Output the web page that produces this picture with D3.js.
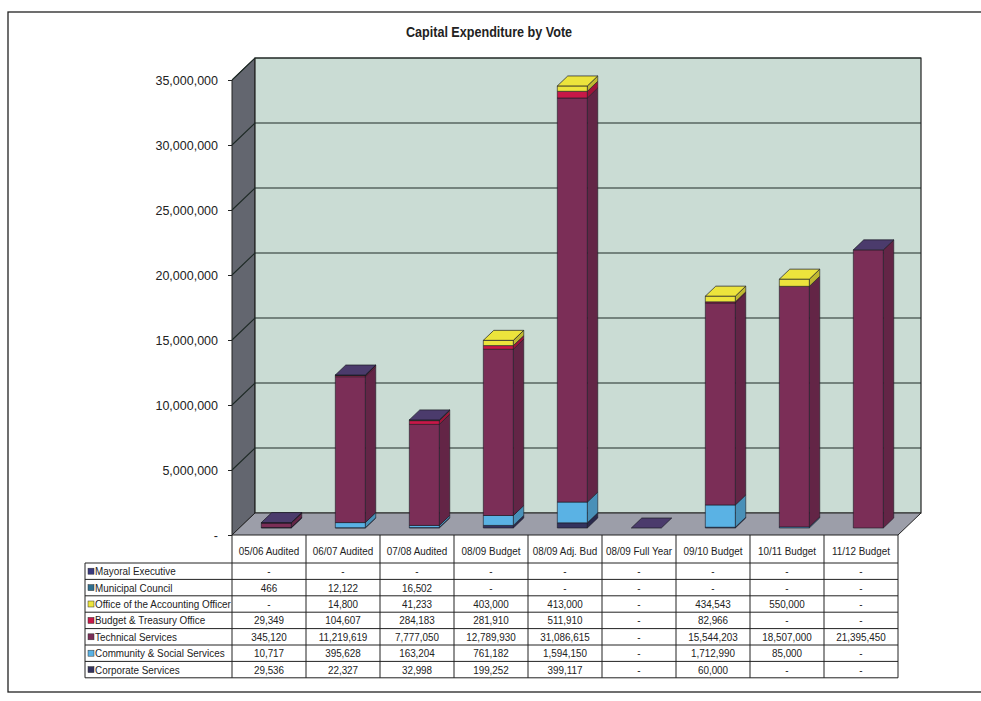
<!DOCTYPE html>
<html><head><meta charset="utf-8">
<script src="https://cdn.jsdelivr.net/npm/d3@7/dist/d3.min.js"></script>
<style>
html,body{margin:0;padding:0;background:#fff;}
svg{display:block;}
</style></head>
<body>
<svg id="chart" width="981" height="701"></svg>
<script>
const categories = ["05/06 Audited","06/07 Audited","07/08 Audited","08/09 Budget","08/09 Adj. Bud","08/09 Full Year","09/10 Budget","10/11 Budget","11/12 Budget"];
const seriesNames = ["Mayoral Executive","Municipal Council","Office of the Accounting Officer","Budget & Treasury Office","Technical Services","Community & Social Services","Corporate Services"];
const mayoralExecutive   = [0,0,0,0,0,0,0,0,0];
const municipalCouncil   = [466,12122,16502,0,0,0,0,0,0];
const accountingOfficer  = [0,14800,41233,403000,413000,0,434543,550000,0];
const budgetTreasury     = [29349,104607,284183,281910,511910,0,82966,0,0];
const technicalServices  = [345120,11219619,7777050,12789930,31086615,0,15544203,18507000,21395450];
const communityServices  = [10717,395628,163204,761182,1594150,0,1712990,85000,0];
const corporateServices  = [29536,22327,32998,199252,399117,0,60000,0,0];
const yTickValues = [0,5000000,10000000,15000000,20000000,25000000,30000000,35000000];
const title = "Capital Expenditure by Vote";

const seriesColors = ["#3a3a80","#2f6f8f","#ece43c","#c81848","#7b2e57","#5ab2e4","#34335e"];
const seriesValues = [mayoralExecutive,municipalCouncil,accountingOfficer,budgetTreasury,technicalServices,communityServices,corporateServices];

const svg = d3.select("#chart");
const FONT = "'Liberation Sans',Arial,sans-serif";

function label(parent, x, y, txt, opts) {
  opts = opts || {};
  return parent.append("text")
    .attr("transform", `translate(${x},${y}) scale(${opts.sx || 0.86},1)`)
    .attr("text-anchor", opts.anchor || "middle")
    .attr("font-family", FONT)
    .attr("font-size", opts.size || 11.5)
    .attr("font-weight", opts.weight || "normal")
    .attr("fill", "#222")
    .text(txt);
}

svg.append("rect").attr("x",8).attr("y",12).attr("width",1000).attr("height",680)
  .attr("fill","none").attr("stroke","#222").attr("stroke-width",1.3);

label(svg, 489, 37, title, {size: 14, weight: "bold", sx: 0.9});

const x0 = 232, x1 = 898;
const depth = 22, kx = 23/22;
const x = d3.scaleBand().domain(categories).range([x0,x1]).padding(0);
const y = d3.scaleLinear().domain([0,35000000]).range([535,80]);
const P = (xs, v, z) => [xs + z*kx, y(v) - z];
const poly = pts => pts.map(p=>p.join(",")).join(" ");

const g = svg.append("g");
g.append("polygon").attr("points", poly([P(x0,0,0),P(x0,35e6,0),P(x0,35e6,depth),P(x0,0,depth)]))
  .attr("fill","#63666f").attr("stroke","#222").attr("stroke-width",1);
g.append("polygon").attr("points", poly([P(x0,0,depth),P(x0,35e6,depth),P(x1,35e6,depth),P(x1,0,depth)]))
  .attr("fill","#cadcd4").attr("stroke","#222").attr("stroke-width",1.2);
g.append("polygon").attr("points", poly([P(x0,0,0),P(x1,0,0),P(x1,0,depth),P(x0,0,depth)]))
  .attr("fill","#9c9ea9").attr("stroke","#222").attr("stroke-width",1);

yTickValues.filter(v=>v>0).forEach(v=>{
  g.append("polyline").attr("points", poly([P(x0,v,0),P(x0,v,depth),P(x1,v,depth)]))
    .attr("fill","none").attr("stroke","#1e2a26").attr("stroke-width",1.1);
});

const yAxis = d3.axisLeft(y).tickValues(yTickValues).tickSize(4).tickPadding(10)
  .tickFormat(v => v===0 ? "-" : d3.format(",")(v));
const ag = svg.append("g").attr("transform",`translate(${x0},0)`).call(yAxis);
ag.select(".domain").remove();
ag.selectAll("text").attr("font-family",FONT).attr("font-size",12.5).attr("fill","#222");
ag.selectAll("line").attr("stroke","#222");

const bw = 30, zf = 7, zb = 17;
const stackOrder = [6,5,4,3,2,1,0];
const bars = svg.append("g");
categories.forEach((c,i)=>{
  const cx = x(c) + x.bandwidth()/2;
  const xl = cx - bw/2, xr = cx + bw/2;
  let cum = 0, topIdx = -1;
  stackOrder.forEach(si=>{
    const v = seriesValues[si][i];
    if (v <= 0) return;
    const col = seriesColors[si];
    const a = cum, b = cum + v;
    bars.append("polygon").attr("points", poly([P(xr,a,zf),P(xr,a,zb),P(xr,b,zb),P(xr,b,zf)]))
      .attr("fill", d3.color(col).darker(0.6)).attr("stroke","#1a1a24").attr("stroke-width",0.6);
    bars.append("polygon").attr("points", poly([P(xl,a,zf),P(xr,a,zf),P(xr,b,zf),P(xl,b,zf)]))
      .attr("fill", col).attr("stroke","#1a1a24").attr("stroke-width",0.6);
    cum = b; topIdx = si;
  });
  const tc = topIdx === 2 ? seriesColors[2] : "#4b3b6c";
  bars.append("polygon").attr("points", poly([P(xl,cum,zf),P(xr,cum,zf),P(xr,cum,zb),P(xl,cum,zb)]))
    .attr("fill", tc).attr("stroke","#1a1a24").attr("stroke-width",0.7);
});

const tTop = 535, hBottom = 563, rowH = 16.4, lx = 85;
const tb = svg.append("g");
const rowsBottom = hBottom + rowH*seriesNames.length;
tb.selectAll("line.v").data(d3.range(categories.length+1)).join("line")
  .attr("x1",d=>x0 + d*x.bandwidth()).attr("x2",d=>x0 + d*x.bandwidth())
  .attr("y1",tTop).attr("y2",rowsBottom).attr("stroke","#222").attr("stroke-width",1);
tb.append("line").attr("x1",lx).attr("x2",lx).attr("y1",hBottom).attr("y2",rowsBottom).attr("stroke","#222");
tb.selectAll("line.h").data(d3.range(seriesNames.length+1)).join("line")
  .attr("x1",lx).attr("x2",x1).attr("y1",d=>hBottom+d*rowH).attr("y2",d=>hBottom+d*rowH)
  .attr("stroke","#222").attr("stroke-width",1);

categories.forEach(c => label(tb, x(c)+x.bandwidth()/2, 555, c));

svg.append("clipPath").attr("id","lblclip").append("rect").attr("x",lx).attr("y",hBottom).attr("width",x0-lx-1).attr("height",rowsBottom-hBottom);
const lg = tb.append("g").attr("clip-path","url(#lblclip)");
seriesNames.forEach((s,r)=>{
  const cy = hBottom + rowH*(r+0.5);
  lg.append("rect").attr("x",lx+3).attr("y",cy-3).attr("width",6).attr("height",6)
    .attr("fill",seriesColors[r]).attr("stroke","#333").attr("stroke-width",0.5);
  label(lg, lx+10, cy+4, s, {anchor: "start"});
  categories.forEach((c,i)=>{
    const v = seriesValues[r][i];
    label(tb, x(c)+x.bandwidth()/2, cy+4, v===0 ? "-" : d3.format(",")(v));
  });
});
</script>
</body></html>
